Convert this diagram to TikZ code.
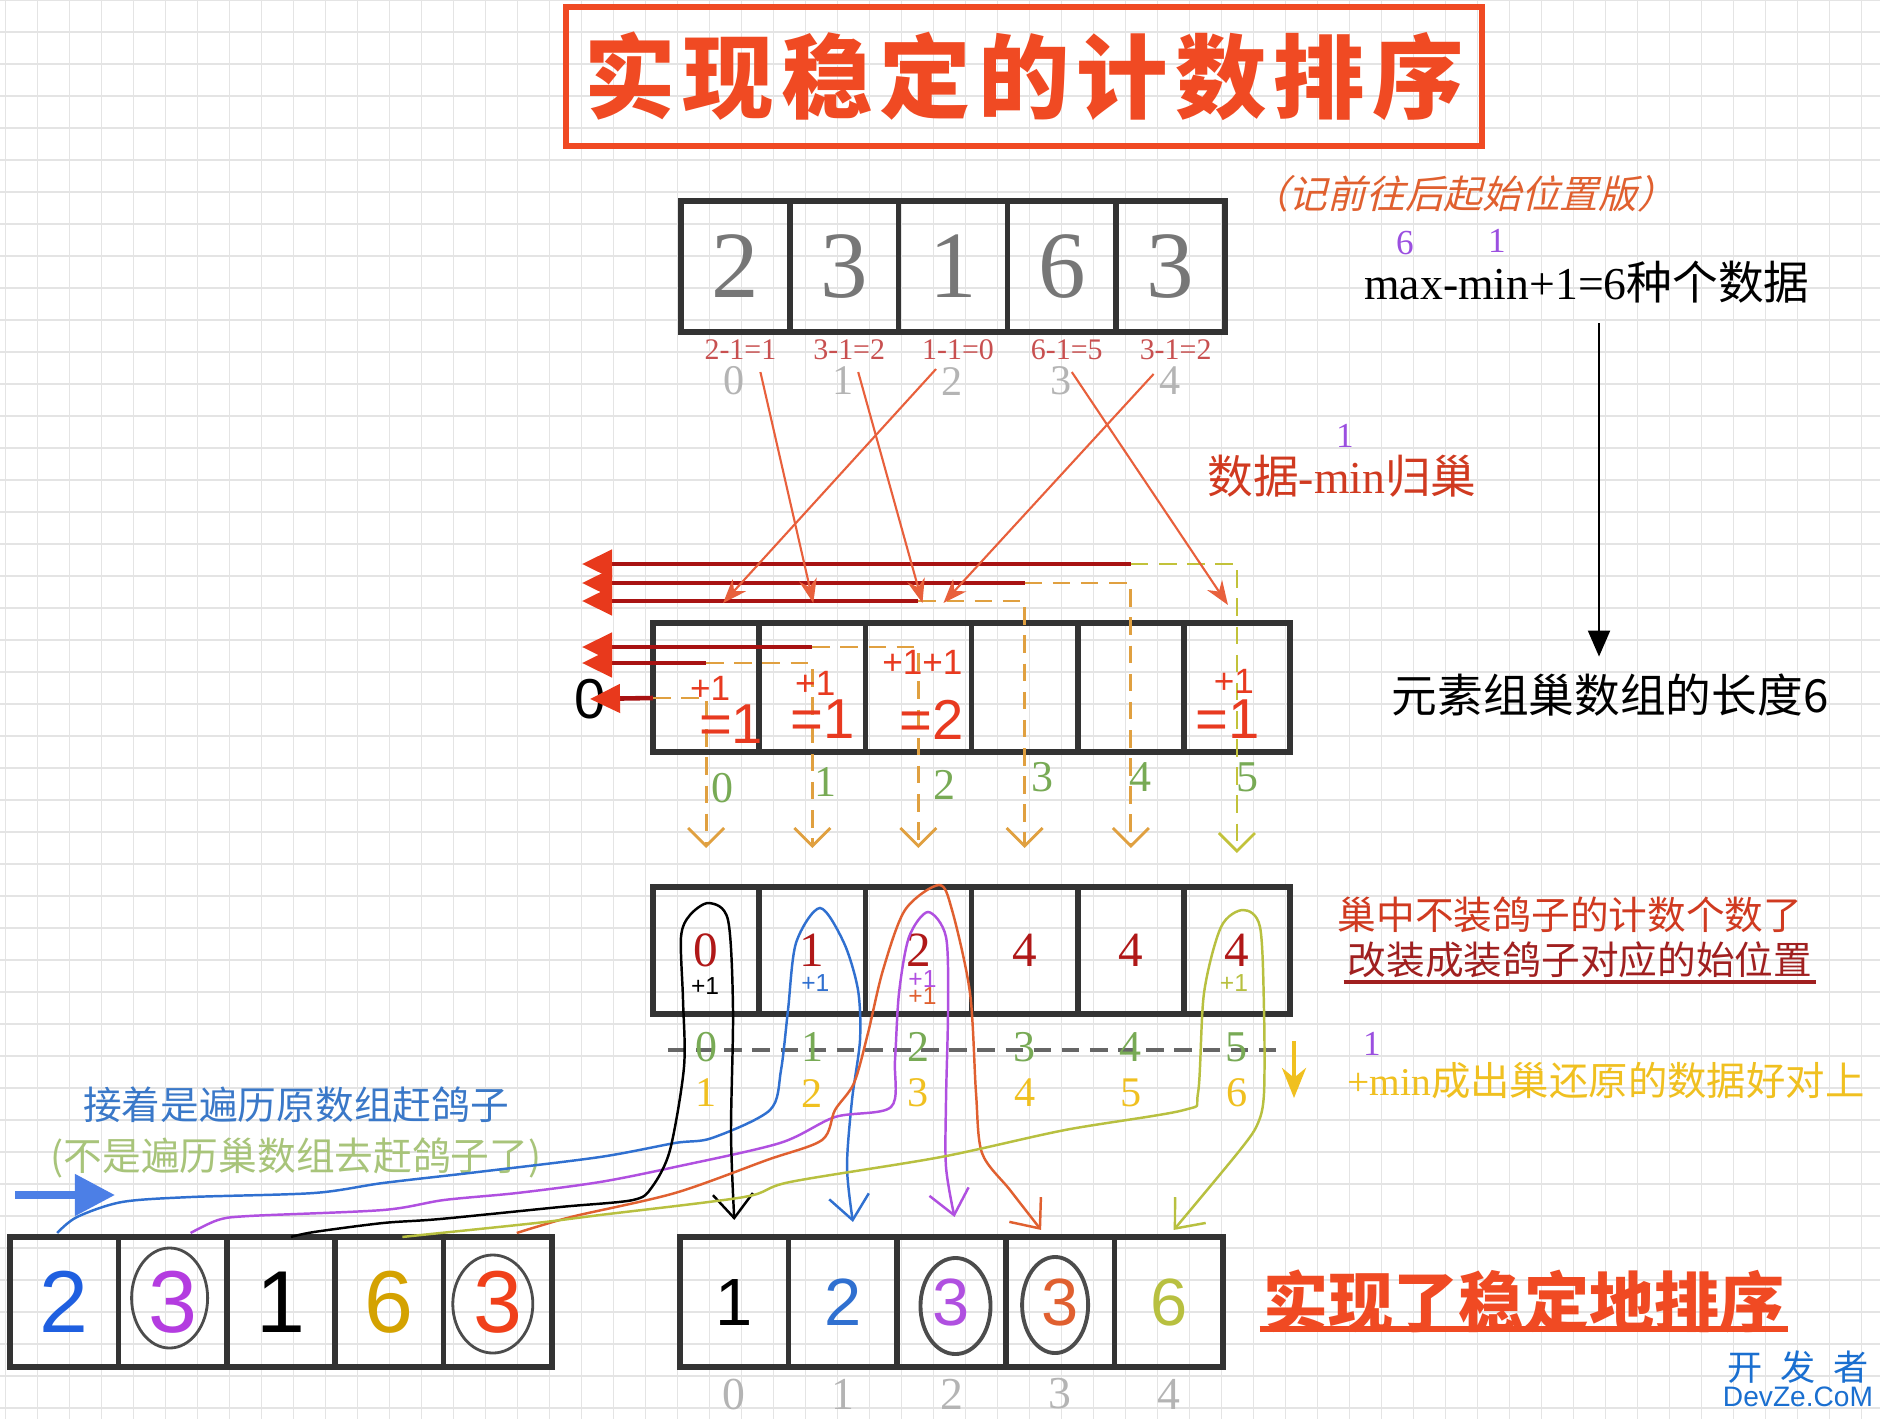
\documentclass[tikz,border=0pt]{standalone}
\usepackage{fontspec}
\setmainfont{Liberation Serif}
\setsansfont{Liberation Sans}
\newfontfamily\cjk{Noto Sans CJK SC}
\newfontfamily\cjkslant[FakeSlant=0.25]{Noto Sans CJK SC}
\usetikzlibrary{arrows.meta, calc}
\newcommand{\setfs}[1]{\fontsize{#1}{#1}\selectfont}
\definecolor{gridgray}{HTML}{E4E4E4}
\definecolor{titlered}{HTML}{F04A23}
\definecolor{digitgray}{HTML}{777777}
\definecolor{fmlred}{HTML}{C85050}
\definecolor{idxgray}{HTML}{B4B4B4}
\definecolor{notered}{HTML}{E0602F}
\definecolor{supviolet}{HTML}{9B4FE0}
\definecolor{labred}{HTML}{D03A20}
\definecolor{tipred}{HTML}{E8391C}
\definecolor{sumred}{HTML}{A81212}
\definecolor{dashorange}{HTML}{E0A040}
\definecolor{dasholive}{HTML}{C2C23A}
\definecolor{feedred}{HTML}{E8603C}
\definecolor{plusred}{HTML}{E83A20}
\definecolor{idxgreen}{HTML}{78AA55}
\definecolor{cntred}{HTML}{B01818}
\definecolor{lineyellow}{HTML}{F0C020}
\definecolor{msgblue}{HTML}{3A78C8}
\definecolor{msggreen}{HTML}{A8C47A}
\definecolor{numblue}{HTML}{1F5FE0}
\definecolor{numviolet}{HTML}{B43CE0}
\definecolor{numgold}{HTML}{D4A200}
\definecolor{numred}{HTML}{F0401A}
\definecolor{curveblue}{HTML}{3070D0}
\definecolor{curveviolet}{HTML}{B050E0}
\definecolor{curveorange}{HTML}{E06030}
\definecolor{curveolive}{HTML}{B8C040}
\definecolor{wmblue}{HTML}{1A6FD0}
\definecolor{darkred}{HTML}{A02020}
\tikzset{
  gridline/.style ={draw=gridgray, line width=0.5pt},
  cell/.style     ={draw=black!80, line width=1.6pt, inner sep=0pt, outer sep=0pt},
  topcell/.style  ={cell, minimum width=1.088cm, minimum height=1.31cm,
                    text=digitgray, font=\setfs{27}},
  nestcell/.style ={cell, minimum width=1.062cm, minimum height=1.29cm},
  cntcell/.style  ={cell, minimum width=1.062cm, minimum height=1.27cm,
                    text=cntred, font=\setfs{14}},
  srccell/.style  ={cell, minimum width=1.084cm, minimum height=1.30cm,
                    font=\sffamily\setfs{25}},
  rescell/.style  ={cell, minimum width=1.086cm, minimum height=1.30cm,
                    font=\sffamily\setfs{19}},
  titlebox/.style ={draw=titlered, line width=1.8pt, minimum width=9.16cm,
                    minimum height=1.39cm, text=titlered, font=\cjk\bfseries\setfs{26}},
  lbl/.style      ={inner sep=1pt},
  fml/.style      ={lbl, text=fmlred, font=\setfs{8.5}},
  gidx/.style     ={lbl, text=idxgray, font=\setfs{12}},
  green/.style    ={lbl, text=idxgreen, font=\setfs{12.5}},
  yel/.style      ={lbl, text=lineyellow, font=\setfs{12}},
  plus/.style     ={lbl, text=plusred, font=\sffamily\setfs{10}},
  eqn/.style      ={lbl, text=plusred, font=\sffamily\setfs{16}},
  tiny/.style     ={lbl, font=\sffamily\setfs{7}},
  sup/.style      ={lbl, text=supviolet, font=\setfs{10}},
  cn/.style       ={lbl, font=\cjk\setfs{11}},
  feed/.style     ={draw=feedred, line width=0.6pt, -{Stealth[length=2.4mm, width=1.8mm]}},
  sumarr/.style   ={draw=sumred, line width=1.3pt,
                    -{Triangle[length=3mm, width=2.8mm, color=tipred]}},
  sumdash/.style  ={draw=dashorange, line width=0.8pt, dash pattern=on 5pt off 3pt,
                    -{Straight Barb[length=1.8mm, width=3.6mm]}},
  curve/.style    ={line width=0.7pt, -{Straight Barb[length=2.4mm, width=4mm]}},
  ring/.style     ={draw=black!70, line width=0.8pt},
  ul/.style       ={line width=1.2pt},
}

\begin{document}
\begin{tikzpicture}[x=0.01cm, y=-0.01cm]
  \useasboundingbox (0,0) rectangle (1880,1419);
  \fill[white] (0,0) rectangle (1880,1419);
  % grid paper
  \foreach \gx in {5.5,37.5,...,1880} \draw[gridline] (\gx,0) -- (\gx,1419);
  \foreach \gy in {0,32,...,1419} \draw[gridline] (0,\gy) -- (1880,\gy);

  \node[titlebox] (title) at (1024,76.5) {实\hspace{2pt}现\hspace{2pt}稳\hspace{2pt}定\hspace{2pt}的\hspace{2pt}计\hspace{2pt}数\hspace{2pt}排\hspace{2pt}序};

  % original array
  \foreach \v [count=\i from 0] in {2,3,1,6,3}
    \node[topcell] (t\i) at ({735.4+108.8*\i},266.5) {\v};
  \foreach \f [count=\i from 0] in {2-1=1,3-1=2,1-1=0,6-1=5,3-1=2}
    \node[fml] (f\i) at ($(t\i.south)+(5,18)$) {\f};
  \foreach \i in {0,...,4}
    \node[gidx] (i\i) at ($(t\i.south)+(-1,49)$) {\i};

  % notes on the right
  \node[cn, text=notered, font=\cjkslant\setfs{11}] (note) at (1463,194) {（记前往后起始位置版）};
  \node[lbl, font=\setfs{13}] (kinds) at (1587,282) {max-min+1=6{\cjk 种个数据}};
  \node[sup] (s6) at (1405,243) {6};
  \node[sup] (s1m) at (1497,241) {1};
  \node[lbl, font=\cjk\setfs{13}] (len) at (1610,695) {元素组巢数组的长度6};
  \draw[-{Triangle[length=2.6mm, width=2.2mm]}, line width=0.6pt]
    ($(kinds.south)+(12,16)$) -- ($(len.north)+(-11,-13)$);
  \node[sup] (s1n) at (1345,436) {1};
  \node[lbl, text=labred, font=\setfs{13}] (minus) at (1342,476) {{\cjk 数据}-min{\cjk 归巢}};

  % nest array
  \foreach \i in {0,...,5}
    \node[nestcell] (b\i) at ({706.1+106.17*\i},687.5) {};
  \foreach \k/\lv in {0/698,1/663,2/647,3/601,4/583,5/564}
    \coordinate (h\k) at (b\k |- 0,\lv);
  \coordinate (lft) at (582,0);
  \coordinate (dn) at (0,848);
  \node[lbl, font=\sffamily\setfs{16}] (zero) at (590,699) {0};

  \draw[sumarr] (b0.west |- h0) -- (zero.center);
  \draw[sumdash] (b0.west |- h0) -- (h0) -- (h0 |- dn);
  \foreach \k/\p in {1/0,2/1,3/2,4/3} {
    \draw[sumarr] (b\p |- h\k) -- (lft |- h\k);
    \draw[sumdash] (b\p |- h\k) -- (h\k) -- (h\k |- dn);
  }
  \draw[sumarr] (b4 |- h5) -- (lft |- h5);
  \draw[sumdash, draw=dasholive] (b4 |- h5) -- (h5) -- ($(h5 |- dn)+(0,5)$);

  % values dropped into the nests
  \draw[feed] ($(i0)+(26,-9)$)  -- ($(b1 |- h3)+(1,2)$);
  \draw[feed] ($(i1)+(15,-9)$)  -- ($(b2 |- h3)+(4,2)$);
  \draw[feed] ($(i2)+(-16,-12)$) -- ($(b0 |- h3)+(17,2)$);
  \draw[feed] ($(i3)+(11,-9)$)  -- ($(b5 |- h3)+(-9,4)$);
  \draw[feed] ($(i4)+(-16,-7)$) -- ($(b2 |- h3)+(25,2)$);

  \node[plus] (p0) at ($(b0)+(4,1)$)   {+1};
  \node[plus] (p1) at ($(b1)+(3,-4)$)  {+1};
  \node[plus] (p2) at ($(b2)+(4,-25)$) {+1+1};
  \node[plus] (p5) at ($(b5)+(-3,-6)$) {+1};
  \node[eqn] (e0) at ($(b0)+(25,37)$)  {=1};
  \node[eqn] (e1) at ($(b1)+(10,32)$)  {=1};
  \node[eqn] (e2) at ($(b2)+(13,32)$)  {=2};
  \node[eqn] (e5) at ($(b5)+(-9,32)$)  {=1};
  \foreach \i/\dx/\dy in {0/16/36,1/13/30,2/26/33,3/18/25,4/10/25,5/11/25}
    \node[green] (g\i) at ($(b\i.south)+(\dx,\dy)$) {\i};

  % start positions
  \foreach \v [count=\i from 0] in {0,1,2,4,4,4}
    \node[cntcell] (c\i) at ({706.1+106.17*\i},950.5) {\v};
  \node[tiny, text=black]       (q0) at ($(c0)+(-1,36)$) {+1};
  \node[tiny, text=curveblue]   (q1) at ($(c1)+(3,33)$)  {+1};
  \node[tiny, text=curveviolet] (q2) at ($(c2)+(4,29)$)  {+1};
  \node[tiny, text=curveorange] (q3) at ($(c2)+(4,46)$)  {+1};
  \node[tiny, text=curveolive]  (q5) at ($(c5)+(-3,33)$) {+1};
  \coordinate (ml) at ($(c0.south west)+(15,36)$);
  \coordinate (mr) at ($(c5.south east)+(-9,36)$);
  \draw[black!60, line width=0.9pt, dash pattern=on 5pt off 3pt] (ml) -- (mr);
  \foreach \i in {0,...,5} {
    \pgfmathtruncatemacro{\n}{\i+1}
    \node[green] (m\i) at ($(c\i.south)+(0,33)$) {\i};
    \node[yel] (y\i) at ($(c\i.south)+(0,79)$) {\n};
  }
  \coordinate (ya) at (1294,1041);
  \draw[draw=lineyellow, line width=1.2pt, -{Stealth[length=3mm, width=2.4mm]}] (ya) -- ++(0,57);
  \node[sup] (s1p) at (1372,1044) {1};
  \node[lbl, text=lineyellow, font=\setfs{11.2}] (plusmin) at (1606,1081) {+min{\cjk 成出巢还原的数据好对上}};
  \node[cn, text=labred] (nc1) at (1570,915) {巢中不装鸽子的计数个数了};
  \node[cn, text=darkred] (nc2) at (1580,960) {改装成装鸽子对应的始位置};
  \draw[ul, darkred] (nc2.south west) -- (nc2.south east);

  % walk the original array
  \node[cn, text=msgblue] (walk) at (296,1105) {接着是遍历原数组赶鸽子};
  \node[cn, text=msggreen] (walk2) at (296,1158) {(不是遍历巢数组去赶鸽子了)};
  \coordinate (ba) at (15,1195);
  \draw[draw=numblue!80, line width=2.2pt, -{Triangle[length=4mm, width=4mm]}] (ba) -- ++(100,0);

  \node[srccell, text=numblue]   (s0) at (64.2,1302)  {2};
  \node[srccell, text=numviolet] (s1) at (172.6,1302) {3};
  \node[srccell, text=black]     (s2) at (281.0,1302) {1};
  \node[srccell, text=numgold]   (s3) at (389.4,1302) {6};
  \node[srccell, text=numred]    (s4) at (497.8,1302) {3};
  \draw[ring] ($(s1.center)+(-3,-4)$) ellipse [x radius=0.38cm, y radius=0.50cm];
  \draw[ring] ($(s4.center)+(-5,2)$)  ellipse [x radius=0.40cm, y radius=0.49cm];

  \node[rescell, text=black]       (r0) at (734.3,1302)  {1};
  \node[rescell, text=curveblue]   (r1) at (842.9,1302)  {2};
  \node[rescell, text=curveviolet] (r2) at (951.5,1302)  {3};
  \node[rescell, text=curveorange] (r3) at (1060.1,1302) {3};
  \node[rescell, text=curveolive]  (r4) at (1168.7,1302) {6};
  \draw[ring, line width=1.1pt] ($(r2.center)+(4,4)$)  ellipse [x radius=0.35cm, y radius=0.48cm];
  \draw[ring, line width=1.1pt] ($(r3.center)+(-5,3)$) ellipse [x radius=0.33cm, y radius=0.48cm];
  \foreach \i in {0,...,4}
    \node[gidx, font=\setfs{13}] (o\i) at ($(r\i.south)+(0,27)$) {\i};

  % pigeons going home
  \coordinate (bs) at ($(s0.north)+(-7,-4)$);
  \coordinate (be) at ($(r1.north)+(10,-15)$);
  \draw[curve, curveblue] plot[smooth, tension=0.5] coordinates {(bs) (77,1217) (122,1202)
    (191,1197) (314,1193) (383,1183) (478,1172) (600,1157) (675,1143) (712,1138) (770,1110)
    (781,1070) (788,1010) (796,943) (820,908) (844,943) (858,990) (860,1040) (852,1100)
    (847,1167) (be)};
  \coordinate (vs) at ($(s1.north)+(18,-4)$);
  \coordinate (ve) at ($(r2.north)+(3,-20)$);
  \draw[curve, curveviolet] plot[smooth, tension=0.5] coordinates {(vs) (218,1220) (249,1216)
    (383,1210) (444,1200) (517,1193) (600,1182) (675,1167) (780,1143) (835,1117) (891,1107)
    (895,1060) (899,993) (909,937) (928,912) (946,937) (948,1010) (946,1100) (946,1167) (ve)};
  \coordinate (ks) at ($(s2.north)+(10,0)$);
  \coordinate (ke) at ($(r0.north)+(0,-17)$);
  \draw[curve, black] plot[smooth, tension=0.5] coordinates {(ks) (314,1232) (383,1223)
    (440,1219) (560,1207) (633,1200) (652,1187) (670,1150) (684,1067) (683,1000) (681,937)
    (690,915) (709,903) (728,920) (733,1010) (731,1133) (ke)};
  \coordinate (os) at ($(s4.north)+(19,-4)$);
  \coordinate (oe) at ($(r3.north)+(-19,-7)$);
  \draw[curve, curveorange] plot[smooth, tension=0.5] coordinates {(os) (536,1227) (575,1216)
    (675,1193) (767,1160) (822,1140) (835,1110) (854,1083) (868,1033) (883,970) (905,910)
    (939,885) (952,910) (970,993) (976,1093) (982,1153) (1010,1190) (oe)};
  \coordinate (gs) at ($(s3.north)+(13,0)$);
  \coordinate (ge) at ($(r4.north)+(5,-7)$);
  \draw[curve, curveolive] plot[smooth, tension=0.5] coordinates {(gs) (421,1235) (536,1223)
    (600,1215) (744,1197) (790,1182) (941,1157) (1065,1130) (1184,1110) (1198,1093)
    (1204,993) (1221,927) (1243,910) (1260,927) (1264,1010) (1264,1093) (1258,1123)
    (1240,1150) (ge)};

  \node[lbl, text=titlered, font=\cjk\bfseries\setfs{18.5}] (done) at (1524,1301) {实现了稳定地排序};
  \draw[ul, titlered, line width=1.6pt] ($(done.south west)+(0,-8)$) -- ($(done.south east)+(0,-8)$);

  \node[lbl, text=wmblue, font=\cjk\setfs{10}] (wm1) at (1798,1367) {开\hspace{5pt}发\hspace{5pt}者};
  \node[lbl, text=wmblue, font=\sffamily\setfs{8}] (wm2) at (1798,1397) {DevZe.CoM};
\end{tikzpicture}
\end{document}
